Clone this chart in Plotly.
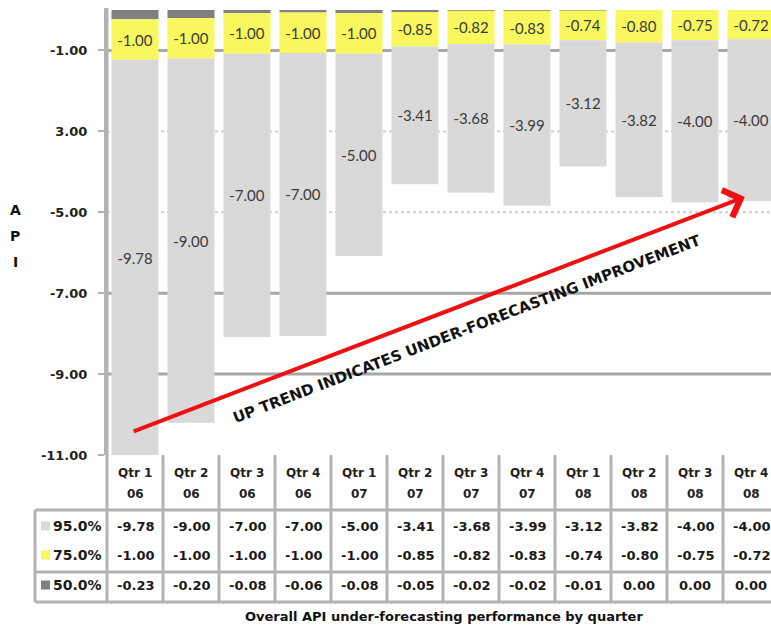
import plotly.graph_objects as go

# ---------------- data ----------------
cat_quarter = ["Qtr 1", "Qtr 2", "Qtr 3", "Qtr 4", "Qtr 1", "Qtr 2", "Qtr 3", "Qtr 4",
               "Qtr 1", "Qtr 2", "Qtr 3", "Qtr 4"]
cat_year = ["06", "06", "06", "06", "07", "07", "07", "07", "08", "08", "08", "08"]
p95 = [-9.78, -9.00, -7.00, -7.00, -5.00, -3.41, -3.68, -3.99, -3.12, -3.82, -4.00, -4.00]
p75 = [-1.00, -1.00, -1.00, -1.00, -1.00, -0.85, -0.82, -0.83, -0.74, -0.80, -0.75, -0.72]
p50 = [-0.23, -0.20, -0.08, -0.06, -0.08, -0.05, -0.02, -0.02, -0.01, 0.00, 0.00, 0.00]
series_names = ["95.0%", "75.0%", "50.0%"]
y_tickvals = [-1, -3, -5, -7, -9, -11]
y_ticktext = ["-1.00", "3.00", "-5.00", "-7.00", "-9.00", "-11.00"]
axis_title_letters = ["A", "P", "I"]
x_title = "Overall API under-forecasting performance by quarter"
trend_text = "UP TREND INDICATES UNDER-FORECASTING IMPROVEMENT"
# arrow (data coords): tail -> head
arrow_tail = (-0.05, -10.43)
arrow_head = (10.89, -4.62)

# ---------------- styles ----------------
C95 = "#d9d9d9"
C75 = "#f8f85e"
C50 = "#808080"
GRID = "#a6a6a6"
TBL = "#b3b3b3"
BOLD = "DejaVu Sans"

W, H = 771, 628
L, T, PB = 107, 8, 455     # left, top, plot bottom in window px
PW = W - L
PH = PB - T
COLW = 56.0

def py(px):
    return (PB - px) / PH

def pxx(px):
    return (px - L) / PW

x = list(range(len(cat_quarter)))

fig = go.Figure()
fig.add_trace(go.Bar(x=x, y=p50, name=series_names[2], marker=dict(color=C50, line=dict(width=0)),
                     hoverinfo="skip"))
fig.add_trace(go.Bar(x=x, y=p75, name=series_names[1], marker=dict(color=C75, line=dict(width=0)),
                     texttemplate="%{y:.2f}", textposition="inside", insidetextanchor="middle",
                     textangle=0, textfont=dict(family="Lato", size=15, color="#3a3a3a"),
                     hoverinfo="skip"))
fig.add_trace(go.Bar(x=x, y=p95, name=series_names[0], marker=dict(color=C95, line=dict(width=0)),
                     texttemplate="%{y:.2f}", textposition="inside", insidetextanchor="middle",
                     textangle=0, textfont=dict(family="Lato", size=15, color="#3a3a3a"),
                     hoverinfo="skip"))

shapes = []
for v in y_tickvals[:-1]:
    faint = v in (-3, -5)
    shapes.append(dict(type="line", xref="paper", yref="y", x0=0, x1=1, y0=v, y1=v,
                       layer="below",
                       line=dict(color="#cfcfcf" if faint else GRID, width=2 if faint else 3,
                                 dash="dot" if faint else "solid")))
shapes.append(dict(type="line", xref="paper", yref="paper", x0=0, x1=0, y0=py(602), y1=py(T),
                   line=dict(color=TBL, width=3)))
for k in range(1, len(x) + 1):
    shapes.append(dict(type="line", xref="x", yref="paper", x0=k - 0.5, x1=k - 0.5,
                       y0=py(PB), y1=py(602), line=dict(color=TBL, width=3)))
for ypx in (510, 572, 602):
    shapes.append(dict(type="line", xref="paper", yref="paper", x0=pxx(35), x1=1,
                       y0=py(ypx), y1=py(ypx), line=dict(color=TBL, width=3)))
shapes.append(dict(type="line", xref="paper", yref="paper", x0=pxx(35), x1=pxx(35),
                   y0=py(510), y1=py(602), line=dict(color=TBL, width=3)))
row_y = [526, 555, 585]
key_cols = [C95, C75, C50]
for ry, kc in zip(row_y, key_cols):
    shapes.append(dict(type="rect", xref="paper", yref="paper", x0=pxx(41), x1=pxx(50),
                       y0=py(ry + 4.5), y1=py(ry - 4.5), fillcolor=kc, line=dict(width=0)))

ann = []
def bold(size, color="#1a1a1a"):
    return dict(family=BOLD, size=size, color=color, weight="bold")

for i in x:
    ann.append(dict(x=i, y=py(473), xref="x", yref="paper", text=cat_quarter[i], showarrow=False,
                    xanchor="center", yanchor="middle", font=bold(12, "#222")))
    ann.append(dict(x=i, y=py(494), xref="x", yref="paper", text=cat_year[i], showarrow=False,
                    xanchor="center", yanchor="middle", font=bold(12, "#222")))
for ry, vals in zip(row_y, [p95, p75, p50]):
    for i in x:
        ann.append(dict(x=i, y=py(ry), xref="x", yref="paper", text=f"{vals[i]:.2f}",
                        showarrow=False, xanchor="center", yanchor="middle", font=bold(13)))
for ry, nm in zip(row_y, series_names):
    ann.append(dict(x=pxx(104), y=py(ry), xref="paper", yref="paper", text=nm, showarrow=False,
                    xanchor="right", yanchor="middle", font=bold(14)))
ann.append(dict(x=pxx(444), y=py(616), xref="paper", yref="paper", text=x_title, showarrow=False,
                xanchor="center", yanchor="middle", font=bold(13, "#111")))
for ly, letter in zip([210, 236, 262], axis_title_letters):
    ann.append(dict(x=pxx(15), y=py(ly), xref="paper", yref="paper", text=letter,
                    showarrow=False, xanchor="center", yanchor="middle", font=bold(14, "#111")))
ann.append(dict(x=arrow_head[0], y=arrow_head[1], xref="x", yref="y",
                ax=arrow_tail[0], ay=arrow_tail[1], axref="x", ayref="y",
                text="", showarrow=True, arrowhead=4, arrowsize=1.4, arrowwidth=4,
                arrowcolor="#ee1111"))
ann.append(dict(x=(467 - L) / COLW - 0.5, y=-(329 - 10) / 40.45, xref="x", yref="y",
                text=trend_text, showarrow=False, textangle=-21,
                xanchor="center", yanchor="middle", font=bold(15, "#111")))

fig.update_layout(
    width=W, height=H,
    margin=dict(l=L, r=0, t=T, b=H - PB, pad=0),
    paper_bgcolor="white", plot_bgcolor="white",
    barmode="relative", bargap=0.16,
    showlegend=False, hovermode=False,
    shapes=shapes, annotations=ann,
    xaxis=dict(range=[-0.5, -0.5 + PW / COLW], showticklabels=False, showgrid=False,
               zeroline=False, showline=False, ticks="", fixedrange=True),
    yaxis=dict(range=[-11.0, 0.05], tickvals=y_tickvals, ticktext=y_ticktext,
               showgrid=False, zeroline=False, showline=True, linecolor=TBL, linewidth=3,
               ticks="outside", ticklen=6, tickcolor=TBL, tickwidth=2,
               ticklabelstandoff=8, fixedrange=True,
               tickfont=bold(13, "#222")),
)

fig.write_html("out.html", config={"displayModeBar": False},
               post_script="document.body.style.margin='0px';document.body.style.overflow='hidden';")
